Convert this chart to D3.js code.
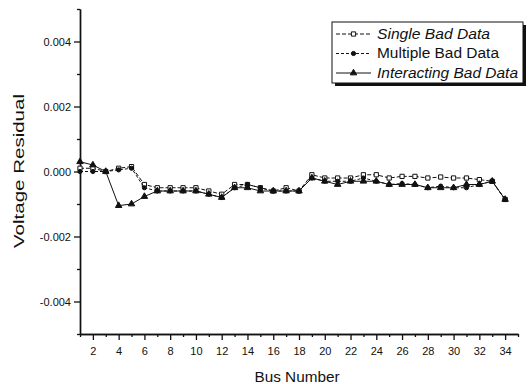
<!DOCTYPE html>
<html><head><meta charset="utf-8">
<script src="https://cdn.jsdelivr.net/npm/d3@7"></script>
<style>body{margin:0;background:#fff}svg{display:block}text{font-family:"Liberation Sans",Arial,sans-serif;fill:#111}</style>
</head><body><svg id="c" width="532" height="384"></svg>
<script>
const buses = d3.range(1, 35);
const seriesNames = ["Single Bad Data", "Multiple Bad Data", "Interacting Bad Data"];
const single = [0.0001,0.0001,0.0,0.0001,0.00015,-0.0004,-0.0005,-0.0005,-0.0005,-0.0005,-0.0006,-0.0007,-0.0004,-0.0004,-0.0005,-0.0006,-0.0005,-0.0006,-0.0001,-0.0002,-0.0002,-0.0002,-0.0001,-0.0001,-0.0002,-0.00015,-0.00015,-0.0002,-0.00017,-0.0002,-0.0002,-0.00025,-0.0003,-0.00086];
const multiple = [0.0,0.0,0.0,0.00005,0.0001,-0.0005,-0.0006,-0.0006,-0.0006,-0.0006,-0.0007,-0.0008,-0.0005,-0.0004,-0.0005,-0.0006,-0.0006,-0.0006,-0.0002,-0.0003,-0.0003,-0.0003,-0.0002,-0.0003,-0.0004,-0.00037,-0.0004,-0.0005,-0.00045,-0.0005,-0.0005,-0.0004,-0.0003,-0.00086];
const interacting = [0.0003,0.0002,0.0,-0.00105,-0.001,-0.00077,-0.0006,-0.0006,-0.0006,-0.0006,-0.0007,-0.0008,-0.0005,-0.0005,-0.0006,-0.0006,-0.0006,-0.0006,-0.0002,-0.0003,-0.0004,-0.0003,-0.0003,-0.0003,-0.0004,-0.0004,-0.0004,-0.0005,-0.0005,-0.0005,-0.0004,-0.0004,-0.0003,-0.00086];
const xTicks = d3.range(2, 35, 2);
const yTicks = [-0.004, -0.002, 0.0, 0.002, 0.004];

const svg = d3.select("#c");
const x = d3.scaleLinear().domain([1, 35]).range([80, 518]);
const y = d3.scaleLinear().domain([-0.005, 0.005]).range([334, 9]);

// axes
const xAxis = svg.append("g").attr("transform", `translate(0,${y(-0.005)})`)
  .call(d3.axisBottom(x).tickValues(xTicks).tickFormat(d3.format("d")).tickSize(6).tickSizeOuter(0));
const xMinor = svg.append("g").attr("transform", `translate(0,${y(-0.005)})`)
  .call(d3.axisBottom(x).tickValues(d3.range(1, 36, 2)).tickFormat("").tickSize(3).tickSizeOuter(0));
const yAxis = svg.append("g").attr("transform", `translate(${x(1)},0)`)
  .call(d3.axisLeft(y).tickValues(yTicks).tickFormat(d => d3.format(".3f")(d).replace("\u2212", "-")).tickSize(6).tickSizeOuter(0));
const yMinor = svg.append("g").attr("transform", `translate(${x(1)},0)`)
  .call(d3.axisLeft(y).tickValues([-0.005,-0.003,-0.001,0.001,0.003,0.005]).tickFormat("").tickSize(3).tickSizeOuter(0));
[xAxis, xMinor, yAxis, yMinor].forEach(g => {
  g.selectAll("path.domain").attr("stroke", "#111").attr("stroke-width", 1.4);
  g.selectAll(".tick line").attr("stroke", "#111").attr("stroke-width", 1.3);
  g.selectAll("text").attr("font-size", 11).attr("font-family", '"Liberation Sans",Arial,sans-serif').attr("fill", "#111");
});
xAxis.selectAll("text").attr("dy", "1.1em");

svg.append("text").attr("x", 297).attr("y", 382).attr("text-anchor", "middle").attr("font-size", 14)
  .attr("textLength", 85).attr("lengthAdjust", "spacingAndGlyphs").text("Bus Number");
svg.append("text").attr("transform", `translate(24,171) rotate(-90)`).attr("text-anchor", "middle").attr("font-size", 14)
  .attr("textLength", 154).attr("lengthAdjust", "spacingAndGlyphs").text("Voltage Residual");

const series = [
  {name: seriesNames[0], vals: single, dash: "4,2", shape: d3.symbolSquare, fill: "#fff", size: 18, italic: true, len: 113},
  {name: seriesNames[1], vals: multiple, dash: "3,2", shape: d3.symbolCircle, fill: "#111", size: 14, italic: false, len: 122},
  {name: seriesNames[2], vals: interacting, dash: null, shape: d3.symbolTriangle, fill: "#111", size: 18, italic: true, len: 141}
];
const line = d3.line().x((d, i) => x(buses[i])).y(d => y(d));
series.forEach(s => {
  svg.append("path").attr("d", line(s.vals)).attr("fill", "none").attr("stroke", "#111")
    .attr("stroke-width", 1).attr("stroke-dasharray", s.dash);
  svg.append("g").selectAll("path").data(s.vals).join("path")
    .attr("transform", (d, i) => `translate(${x(buses[i])},${y(d)})`)
    .attr("d", d3.symbol().type(s.shape).size(s.size))
    .attr("fill", s.fill).attr("stroke", "#111").attr("stroke-width", 1);
});

// legend
const lg = svg.append("g");
lg.append("rect").attr("x", 335).attr("y", 25).attr("width", 191).attr("height", 61).attr("fill", "#111");
lg.append("rect").attr("x", 332).attr("y", 22).attr("width", 191).attr("height", 61).attr("fill", "#fff").attr("stroke", "#111").attr("stroke-width", 1);
series.forEach((s, i) => {
  const yy = 34 + i * 19.5;
  lg.append("line").attr("x1", 336).attr("x2", 371).attr("y1", yy).attr("y2", yy)
    .attr("stroke", "#111").attr("stroke-width", 1).attr("stroke-dasharray", s.dash);
  lg.append("path").attr("transform", `translate(353.5,${yy})`).attr("d", d3.symbol().type(s.shape).size(s.size))
    .attr("fill", s.fill).attr("stroke", "#111");
  lg.append("text").attr("x", 377).attr("y", yy).attr("dy", "0.35em").attr("font-size", 14)
    .attr("textLength", s.len).attr("lengthAdjust", "spacingAndGlyphs")
    .attr("font-style", s.italic ? "italic" : "normal").text(s.name);
});
</script></body></html>
